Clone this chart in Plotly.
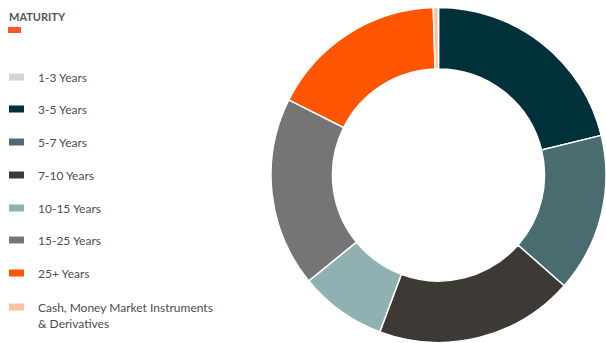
import plotly.graph_objects as go

title = "MATURITY"
labels = ["1-3 Years", "3-5 Years", "5-7 Years", "7-10 Years", "10-15 Years",
          "15-25 Years", "25+ Years", "Cash, Money Market Instruments<br>& Derivatives"]
values = [0.0, 21.2, 15.3, 19.2, 8.4, 18.3, 17.1, 0.5]
colors = ["#d3d3d3", "#00303a", "#4a6b70", "#3d3935", "#8fb1b1",
          "#757575", "#ff5500", "#ffc0a0"]

W, H = 606, 343
fig = go.Figure()
fig.add_trace(go.Pie(
    labels=labels, values=values, sort=False, direction="clockwise", rotation=0,
    hole=0.633, textinfo="none", hoverinfo="label+percent",
    marker=dict(colors=colors, line=dict(color="white", width=1.5)),
    domain=dict(x=[271 / W, 1.0], y=[0.0, 336 / H]),
    showlegend=False,
))

font_family = "Lato, 'Open Sans', sans-serif"
shapes = []
annotations = []

# Title and accent bar
annotations.append(dict(x=7 / W, y=1 - 16 / H, xref="paper", yref="paper",
                        text="<b>" + title + "</b>", showarrow=False,
                        xanchor="left", yanchor="middle",
                        font=dict(family=font_family, size=11, color="#555555")))
shapes.append(dict(type="rect", xref="paper", yref="paper",
                   x0=8 / W, x1=21 / W, y0=1 - 33 / H, y1=1 - 27 / H,
                   fillcolor="#f05a28", line=dict(width=0)))

# Custom legend
y_centers = [77, 109, 142, 175, 208, 240, 273, 307]
for lab, col, yc in zip(labels, colors, y_centers):
    shapes.append(dict(type="rect", xref="paper", yref="paper",
                       x0=9 / W, x1=24 / W, y0=1 - (yc + 3.5) / H, y1=1 - (yc - 3.5) / H,
                       fillcolor=col, line=dict(width=0)))
    annotations.append(dict(x=36 / W, y=1 - (yc - 9) / H, xref="paper", yref="paper",
                            text=lab, showarrow=False, xanchor="left", yanchor="top",
                            align="left",
                            font=dict(family=font_family, size=12, color="#4d4d4d")))

fig.update_layout(
    width=W, height=H, margin=dict(l=0, r=0, t=0, b=0),
    paper_bgcolor="white", plot_bgcolor="white",
    shapes=shapes, annotations=annotations,
)
fig.write_html("out.html", config={"displayModeBar": False},
               post_script="document.body.style.margin='0';document.body.style.overflow='hidden';")
